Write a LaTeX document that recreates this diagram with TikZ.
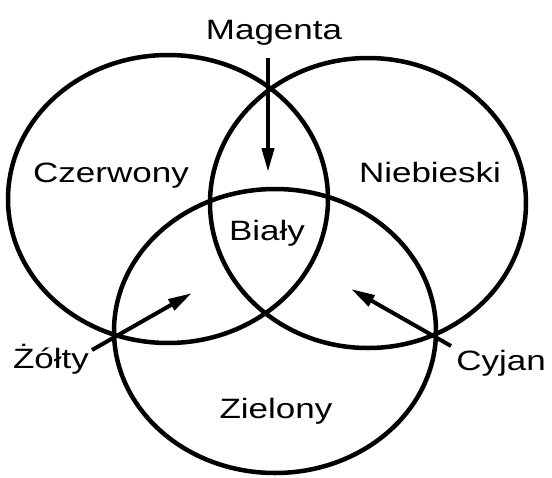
\documentclass[tikz,border=0pt]{standalone}
\usepackage{fontspec}
\setmainfont[FakeStretch=1.25]{Liberation Sans}
\usetikzlibrary{arrows.meta}

\begin{document}
\begin{tikzpicture}[x=1pt, y=-1pt,
    ring/.style={line width=4.5pt},
    lbl/.style={anchor=base, inner sep=0pt, font=\fontsize{28}{30}\selectfont},
    arr/.style={line width=4pt, -{Triangle[length=24pt, width=12pt]}}]
  \useasboundingbox (0,0) rectangle (552,477);
  % three overlapping rings
  \draw[ring] (168,199) ellipse [x radius=160, y radius=144];
  \draw[ring] (368,203) ellipse [x radius=158, y radius=145];
  \draw[ring] (275,331) ellipse [x radius=161, y radius=142];
  % labels
  \node[lbl] (magenta) at (274,39) {Magenta};
  \node[lbl] (czerwony) at (111,182) {Czerwony};
  \node[lbl] (niebieski) at (430,182) {Niebieski};
  \node[lbl] (bialy) at (267,240) {Biały};
  \node[lbl] (zolty) at (51,368) {Żółty};
  \node[lbl] (cyjan) at (501,370) {Cyjan};
  \node[lbl] (zielony) at (276,418) {Zielony};
  % arrow ends
  \coordinate (mTail) at (268,58);
  \coordinate (mTip) at (268,172);
  \coordinate (zTail) at (92,350);
  \coordinate (zTip) at (192,293);
  \coordinate (cTail) at (451,346);
  \coordinate (cTip) at (351,289);
  \draw[arr] (mTail) -- (mTip);
  \draw[arr] (zTail) -- (zTip);
  \draw[arr] (cTail) -- (cTip);
\end{tikzpicture}
\end{document}
